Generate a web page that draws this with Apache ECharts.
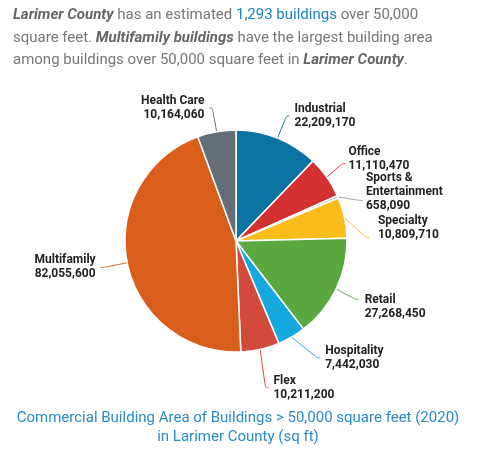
<!DOCTYPE html>
<html><head><meta charset="utf-8">
<script src="https://cdn.jsdelivr.net/npm/echarts@6/dist/echarts.min.js"></script>
<style>html,body{margin:0;padding:0;background:#fff}#c{width:480px;height:459px}</style>
</head><body><div id="c"></div>
<script>
const categories = ['Industrial','Office','Sports &\nEntertainment','Specialty','Retail','Hospitality','Flex','Multifamily','Health Care'];
const values = [22209170,11110470,658090,10809710,27268450,7442030,10211200,82055600,10164060];
const colors = ['#0a73a1','#d33131','#9a9a9a','#f9bd1b','#5ca840','#16a9dd','#d24a3c','#d95e1b','#636e76'];
const chartTitle = ['Commercial Building Area of Buildings > 50,000 square feet (2020)','in Larimer County (sq ft)'];

const chart = echarts.init(document.getElementById('c'));
const fmt = v => v.toLocaleString('en-US');
const nudge = {'Office':[-2,-4],'Sports &\nEntertainment':[-2,-8],'Specialty':[4,-9],'Retail':[1,8]};
chart.setOption({
  animation:false,
  graphic:[{
    type:'text', left:13, top:4,
    style:{
      text:'{b|Larimer County} has an estimated {l|1,293 buildings} over 50,000\nsquare feet. {b|Multifamily buildings} have the largest building area\namong buildings over 50,000 square feet in {b|Larimer County}.',
      fontFamily:'Roboto', fontSize:15, fill:'#777', lineHeight:22.5,
      rich:{
        b:{fontFamily:'Roboto',fontSize:15,fontStyle:'italic',fontWeight:'bold',fill:'#666',color:'#666',lineHeight:22.5},
        l:{fontFamily:'Roboto',fontSize:15,fill:'#1a83c6',color:'#1a83c6',lineHeight:22.5}
      }
    }
  },{
    type:'text', x:238, y:411,
    style:{text:chartTitle[0], fontFamily:'Roboto', fontSize:15, fill:'#2a8bc6', align:'center', verticalAlign:'top'}
  },{
    type:'text', x:238, y:430,
    style:{text:chartTitle[1], fontFamily:'Roboto', fontSize:15, fill:'#2a8bc6', align:'center', verticalAlign:'top'}
  }],
  series:[{
    type:'pie',
    center:[236,241],
    radius:111,
    startAngle:90,
    clockwise:true,
    data:categories.map((c,i)=>({name:c,value:values[i],itemStyle:{color:colors[i]},
      labelLine:{lineStyle:{color:colors[i]}}})),
    itemStyle:{borderColor:'#fff',borderWidth:1.5},
    label:{
      formatter:p=>p.name+'\n'+fmt(p.value),
      fontFamily:'Roboto', fontWeight:'bold', fontSize:12, color:'#222', lineHeight:14,
      align:'left'
    },
    labelLayout:p=>{ const n=nudge[categories[p.dataIndex]]; return n?{dx:n[0],dy:n[1]}:{}; },
    labelLine:{show:true,smooth:0.4,length:24,length2:3,lineStyle:{width:1}}
  }]
});
</script></body></html>
